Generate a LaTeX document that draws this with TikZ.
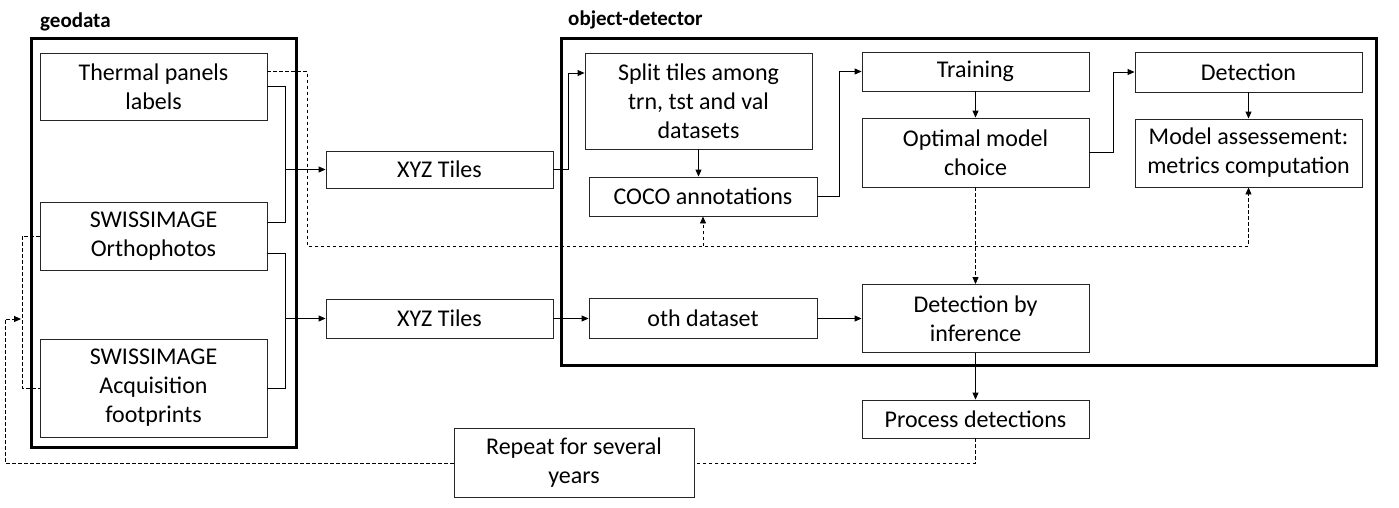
\documentclass[tikz,border=0pt]{standalone}
\usepackage{fontspec}
\setmainfont{Carlito}
\usetikzlibrary{arrows.meta}
\begin{document}
\begin{tikzpicture}[x=1pt,y=-1pt,
  box/.style={draw=black!85, line width=0.9pt, align=center, inner sep=0pt, font=\fontsize{24}{29}\selectfont},
  frame/.style={draw=black, line width=3pt},
  title/.style={font=\fontsize{21}{25}\selectfont\bfseries, anchor=base west, inner sep=0pt},
  link/.style={line width=0.9pt},
  arr/.style={-{Triangle[length=7pt,width=6pt]}, line width=0.9pt},
  dsh/.style={dash pattern=on 3.5pt off 2.5pt, line width=0.9pt},
]
\useasboundingbox (0,0) rectangle (1399,507);
% frames
\node[frame, minimum width=265pt, minimum height=409pt] (geoframe) at (163.5,242.5) {};
\node[frame, minimum width=815pt, minimum height=327pt] (odframe) at (968.5,201.5) {};
\node[title] (geotitle) at (40,27) {geodata};
\node[title] (odtitle) at (568,25) {object-detector};
% geodata boxes
\node[box, minimum width=227pt, minimum height=67pt] (thermal) at (153.5,86.5) {Thermal panels\\labels};
\node[box, minimum width=227pt, minimum height=68pt] (ortho) at (153.5,236) {SWISSIMAGE\\Orthophotos};
\node[box, minimum width=227pt, minimum height=98pt] (acq) at (153.5,388) {SWISSIMAGE\\Acquisition\\footprints};
% tiles
\node[box, minimum width=227pt, minimum height=37pt] (xyz1) at (439.5,169.5) {XYZ Tiles};
\node[box, minimum width=227pt, minimum height=39pt] (xyz2) at (439.5,318.5) {XYZ Tiles};
% object detector boxes
\node[box, minimum width=227pt, minimum height=96pt] (split) at (698.5,101) {Split tiles among\\trn, tst and val\\datasets};
\node[box, minimum width=228pt, minimum height=39pt] (coco) at (703,196.5) {COCO annotations};
\node[box, minimum width=227pt, minimum height=39pt] (training) at (975.5,71.5) {Training};
\node[box, minimum width=227pt, minimum height=69pt] (optimal) at (975.5,152.5) {Optimal model\\choice};
\node[box, minimum width=227pt, minimum height=40pt] (detection) at (1248.5,72) {Detection};
\node[box, minimum width=227pt, minimum height=68pt] (model) at (1248.5,153) {Model assessement:\\metrics computation};
\node[box, minimum width=228pt, minimum height=40pt] (oth) at (703,318.5) {oth dataset};
\node[box, minimum width=227pt, minimum height=68pt] (dbi) at (975.5,318.5) {Detection by\\inference};
\node[box, minimum width=227pt, minimum height=38pt] (process) at (975.5,419) {Process detections};
\node[box, minimum width=240pt, minimum height=69pt] (repeat) at (574,463) {Repeat for several\\years};
% coordinates
\coordinate (busA) at (285,169.5);
\coordinate (busB) at (285,318.5);
\coordinate (j1) at (568,73);
\coordinate (j2) at (839,71.5);
\coordinate (j3) at (1113,72);
\coordinate (d1) at (307,246);
\coordinate (r1) at (975.5,463);
\coordinate (l1) at (5,463);
\coordinate (l2) at (5,319);
\coordinate (l3) at (21,319);
\coordinate (k1) at (22,238);
% geodata -> tiles
\draw[link] (thermal.east) -| (busA);
\draw[link] ([yshift=14pt]ortho.east) -| (busA);
\draw[arr] (busA) -- (xyz1.west);
\draw[link] ([yshift=-17pt]ortho.east) -| (busB);
\draw[link] (acq.east) -| (busB);
\draw[arr] (busB) -- (xyz2.west);
% tiles -> object detector
\draw[arr] (xyz1.east) -| (j1) -- (j1 -| split.west);
\draw[arr] (split.south) -- (split.south |- coco.north);
\draw[arr] (coco.east) -| (j2) -- (training.west);
\draw[arr] (training) -- (optimal);
\draw[arr] (optimal.east) -| (j3) -- (detection.west);
\draw[arr] (detection) -- (model);
\draw[arr] (xyz2) -- (oth);
\draw[arr] (oth) -- (dbi);
\draw[arr, dsh] (optimal) -- (dbi);
\draw[arr] (dbi) -- (process);
% dashed labels path
\draw[arr, dsh] ([yshift=15pt]thermal.east) -| (d1) -| (model.south);
\draw[arr, dsh] (coco.south |- d1) -- (coco.south);
% repeat loop
\draw[dsh] (process.south) -- (r1) -- (repeat.east);
\draw[arr, dsh] (repeat.west) -- (l1) -- (l2) -- (l3);
\draw[dsh] (ortho.west) -- (ortho.west -| k1) |- (acq.west);
\end{tikzpicture}
\end{document}
